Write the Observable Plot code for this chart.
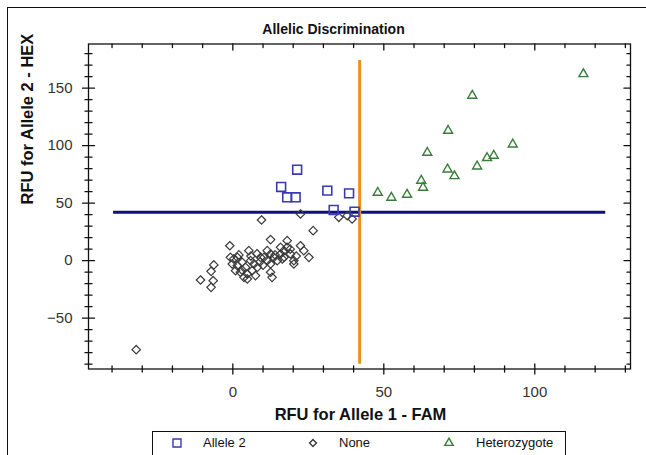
<!DOCTYPE html>
<html>
<head>
<meta charset="utf-8">
<script src="https://cdn.jsdelivr.net/npm/d3@7"></script>
<script src="https://cdn.jsdelivr.net/npm/@observablehq/plot@0.6"></script>
<style>
  body { margin: 0; background: #fff; }
  #wrap { position: relative; width: 646px; height: 455px; overflow: hidden; font-family: "Liberation Sans", Arial, sans-serif; background: #fff; }
  #outer { position: absolute; left: 7px; top: 7px; width: 700px; height: 500px; border: 1px solid #111; box-sizing: border-box; }
  #chart { position: absolute; left: 0; top: 0; }
  #legend { position: absolute; left: 152px; top: 431px; width: 414px; height: 30px; border: 1px solid #111; box-sizing: border-box; background: #fff; font-size: 13px; color: #111; }
  #legend .item { position: absolute; top: 3px; white-space: nowrap; }
  #legend svg { position: absolute; top: 4px; overflow: visible; }
</style>
</head>
<body>
<div id="wrap">
  <div id="outer"></div>
  <div id="chart"></div>
  <div id="legend"></div>
</div>
<script>
// ---- Data ----
const seriesNames = ["Allele 2", "None", "Heterozygote"];

const allele2X = [21.3, 16.0, 18.0, 20.8, 31.3, 38.5, 33.4, 40.3];
const allele2Y = [79.1, 64.1, 55.1, 55.1, 60.9, 58.5, 44.1, 42.6];

const noneX = [9.5, 22.4, 26.6, 35.1, 37.9, 39.5, 12.5, -1.0, -10.7, -7.2, -6.5, -6.3, -7.2, 0.3, -0.2, 0.9, 3.7, 4.8, 5.3, 7.0, 8.1, 5.9, 3.1, 4.2, 6.4, 7.5, 10.3, 11.4, 12.5, 13.6, 14.7, 15.8, 16.9, 18.0, 18.0, 12.5, 13.0, 12.5, 20.2, 22.4, 23.5, 25.2, 19.1, 15.8, 16.4, 20.2, 1.5, 2.5, 4.8, 11.4, 9.2, -0.8, 1.5, -32.0, 2.0, 6.0, 9.0, 10.0, 14.0, 17.0, 19.0, 21.0, 8.0, 3.0];
const noneY = [35.4, 40.6, 26.1, 37.7, 39.1, 36.3, 18.3, 13.0, -16.8, -23.2, -17.4, -3.7, -9.3, 1.5, -2.9, -8.7, -14.5, -15.9, 8.7, -2.9, -5.8, 0.0, -1.4, -5.8, -8.7, -13.0, 2.9, 0.0, 5.8, 2.9, 0.0, 5.8, 8.7, 11.6, 17.4, -2.9, -14.5, -10.1, 0.0, 13.0, 8.7, 2.9, 5.8, 11.6, 1.5, -2.9, 2.9, -10.1, -11.6, 8.7, 2.9, 2.9, -4.3, -77.4, 5.0, 4.0, -1.0, -4.0, 5.0, 3.0, 10.0, 4.0, 6.0, -8.0];

const hetX = [116.1, 79.3, 71.3, 64.4, 92.7, 86.4, 84.2, 80.9, 71.1, 73.4, 62.4, 63.0, 48.0, 52.5, 57.7];
const hetY = [162.3, 143.5, 113.0, 93.9, 101.1, 91.3, 89.3, 82.0, 79.4, 73.6, 69.6, 63.5, 59.1, 54.8, 57.4];

// threshold lines
const thresholdY = [42];
const thresholdYExtent = [-39.5, 123.5];   // x-extent of the horizontal line
const thresholdX = [42];
const thresholdXExtent = [-90, 174];       // y-extent of the vertical line

// axes
const xDomain = [-47.8, 131.7];
const yDomain = [-94.2, 188.4];
const xTickLabels = [0, 50, 100];
const yTickLabels = [-50, 0, 50, 100, 150];
const xMinorTicks = d3.range(-40, 131, 10).filter(d => !xTickLabels.includes(d));
const yMinorTicks = d3.range(-90, 181, 10).filter(d => !yTickLabels.includes(d));

const titleText = "Allelic Discrimination";
const xLabelText = "RFU for Allele 1 - FAM";
const yLabelText = "RFU for Allele 2 - HEX";

// ---- Build tables ----
const allele2 = allele2X.map((x, i) => ({x, y: allele2Y[i]}));
const none = noneX.map((x, i) => ({x, y: noneY[i]}));
const het = hetX.map((x, i) => ({x, y: hetY[i]}));

const tickShape = { draw(ctx, l) { ctx.moveTo(0, 0); ctx.lineTo(0, -l); } };
const axisColor = "#111";

const chart = Plot.plot({
  width: 646,
  height: 431,
  marginLeft: 88,
  marginRight: 16,
  marginTop: 43.5,
  marginBottom: 62.5,
  style: { fontFamily: "'Liberation Sans', Arial, sans-serif", background: "transparent" },
  x: { domain: xDomain },
  y: { domain: yDomain },
  marks: [
    Plot.frame({ stroke: axisColor, strokeWidth: 1.3 }),
    // bottom ticks (crossing)
    Plot.vector(xMinorTicks, { x: d => d, frameAnchor: "bottom", length: 6, rotate: 0, anchor: "middle", shape: tickShape, stroke: axisColor, strokeWidth: 1.3 }),
    Plot.vector(xTickLabels, { x: d => d, frameAnchor: "bottom", length: 10, rotate: 0, anchor: "middle", shape: tickShape, stroke: axisColor, strokeWidth: 1.3 }),
    // top ticks (inward)
    Plot.vector(xMinorTicks, { x: d => d, frameAnchor: "top", length: 3.5, rotate: 180, anchor: "start", shape: tickShape, stroke: axisColor, strokeWidth: 1.3 }),
    Plot.vector(xTickLabels, { x: d => d, frameAnchor: "top", length: 6, rotate: 180, anchor: "start", shape: tickShape, stroke: axisColor, strokeWidth: 1.3 }),
    // left ticks (crossing)
    Plot.vector(yMinorTicks, { y: d => d, frameAnchor: "left", length: 7, rotate: 90, anchor: "middle", shape: tickShape, stroke: axisColor, strokeWidth: 1.3 }),
    Plot.vector(yTickLabels, { y: d => d, frameAnchor: "left", length: 12, rotate: 90, anchor: "middle", shape: tickShape, stroke: axisColor, strokeWidth: 1.3 }),
    // right ticks (inward)
    Plot.vector(yMinorTicks, { y: d => d, frameAnchor: "right", length: 3.5, rotate: -90, anchor: "start", shape: tickShape, stroke: axisColor, strokeWidth: 1.3 }),
    Plot.vector(yTickLabels, { y: d => d, frameAnchor: "right", length: 6.5, rotate: -90, anchor: "start", shape: tickShape, stroke: axisColor, strokeWidth: 1.3 }),
    // tick labels
    Plot.axisX(xTickLabels, { anchor: "bottom", tickSize: 0, tickPadding: 17.5, fontSize: 15, fill: "#333", label: null }),
    Plot.axisY(yTickLabels, { anchor: "left", tickSize: 0, tickPadding: 16, fontSize: 15, fill: "#333", label: null }),
    // threshold lines
    Plot.ruleY(thresholdY, { y: d => d, x1: thresholdYExtent[0], x2: thresholdYExtent[1], stroke: "#10107f", strokeWidth: 3 }),
    Plot.ruleX(thresholdX, { x: d => d, y1: thresholdXExtent[0], y2: thresholdXExtent[1], stroke: "#e8931f", strokeWidth: 3 }),
    // points
    Plot.dot(none, { x: "x", y: "y", symbol: "diamond2", r: 3.8, stroke: "#3a3a3a", strokeWidth: 1.2, fill: "none" }),
    Plot.dot(allele2, { x: "x", y: "y", symbol: "square", r: 5, stroke: "#3a3ab4", strokeWidth: 1.6, fill: "none" }),
    Plot.dot(het, { x: "x", y: "y", symbol: "triangle2", r: 4.3, stroke: "#3a7d3a", strokeWidth: 1.4, fill: "none" }),
    // texts
    Plot.text([titleText], { frameAnchor: "top", dx: -26, dy: -14.8, fontSize: 14, fontWeight: "bold", lineAnchor: "middle", fill: "#111" }),
    Plot.text([xLabelText], { frameAnchor: "bottom", dx: 1, dy: 45.5, fontSize: 16.5, fontWeight: "bold", lineAnchor: "middle", fill: "#111" }),
    Plot.text([yLabelText], { frameAnchor: "left", dx: -60.5, dy: -2, rotate: -90, fontSize: 16.5, fontWeight: "bold", lineAnchor: "middle", fill: "#111" })
  ]
});
document.getElementById("chart").appendChild(chart);

// ---- Legend ----
const legendItems = [
  { name: seriesNames[0], type: d3.symbolSquare, size: 64, stroke: "#3a3ab4", symX: 23.7, textX: 50 },
  { name: seriesNames[1], type: d3.symbolDiamond2, size: 30, stroke: "#3a3a3a", symX: 160, textX: 186 },
  { name: seriesNames[2], type: d3.symbolTriangle2, size: 50, stroke: "#3a7d3a", symX: 295.7, textX: 323 }
];
const legend = d3.select("#legend");
for (const it of legendItems) {
  const svg = legend.append("svg").attr("width", 1).attr("height", 1)
    .style("left", (it.symX) + "px").style("top", "10.7px");
  svg.append("path").attr("d", d3.symbol(it.type, it.size)())
    .attr("fill", "none").attr("stroke", it.stroke).attr("stroke-width", 1.4);
  legend.append("span").attr("class", "item").style("left", it.textX + "px").text(it.name);
}
</script>
</body>
</html>
